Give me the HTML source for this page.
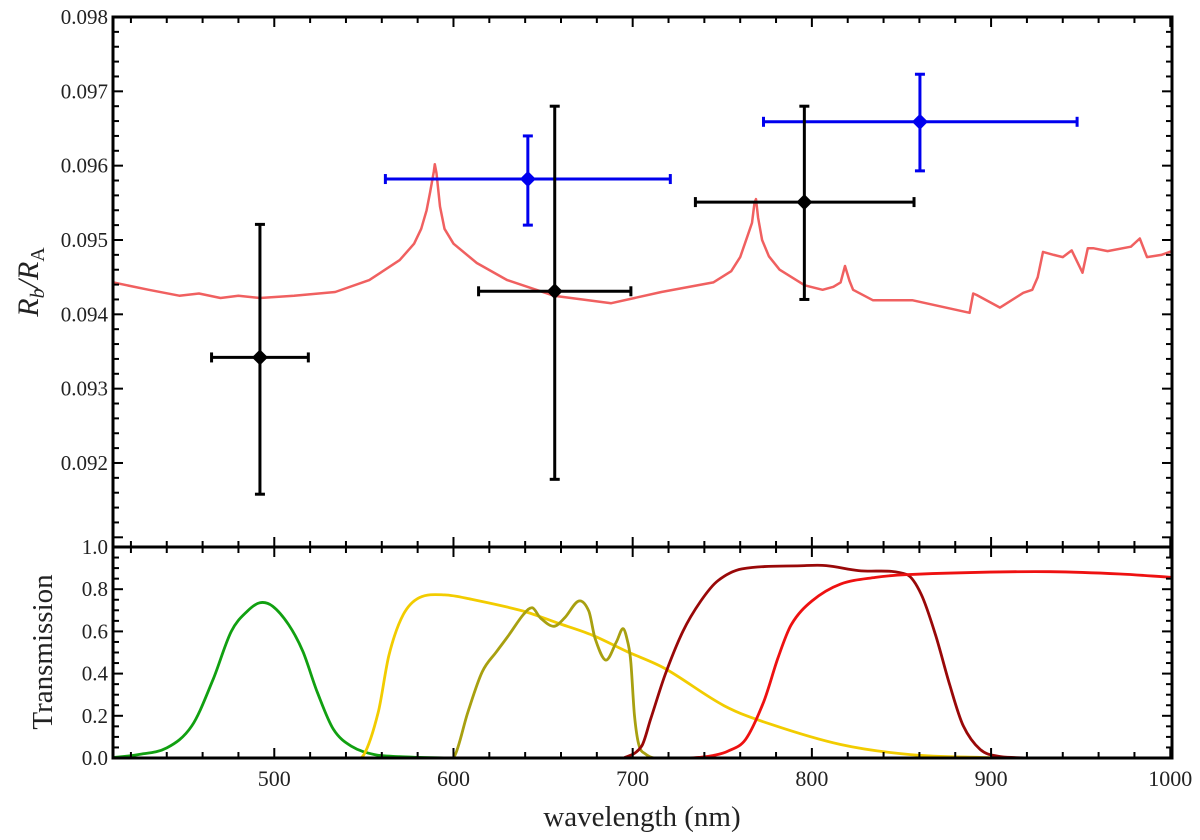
<!DOCTYPE html>
<html><head><meta charset="utf-8"><style>
html,body{margin:0;padding:0;background:#fff;}
svg{display:block;font-family:"Liberation Serif",serif;}
</style></head><body>
<svg id="chart" width="1200" height="840" viewBox="0 0 1200 840">
<g id="plot"></g>
</svg>
<script>
// ---- data ----
const modelWl = [410,430,447,458,470,480,492,511,534,553,570,578,582,585,587,589,589.6,590.5,592.5,595,600,613,630,656,688,716,745,755,760,764,766.6,768,768.8,770,772.2,776,782,796,806,812,816,818.5,821,823,834,856,888,890,892,905,918,923,926,929,935,940,945,951,954,957,965,978,983,987,995,1001];
const modelR = [0.09443,0.09433,0.09425,0.09428,0.09422,0.09425,0.09422,0.09425,0.0943,0.09446,0.09473,0.09495,0.09515,0.0954,0.09565,0.09592,0.09602,0.0959,0.09545,0.09515,0.09495,0.09469,0.09446,0.09425,0.09415,0.0943,0.09443,0.09458,0.09477,0.09505,0.09523,0.0955,0.09555,0.0953,0.095,0.09478,0.0946,0.09439,0.09433,0.09437,0.09443,0.09465,0.09445,0.09433,0.09419,0.09419,0.09402,0.09428,0.09426,0.09409,0.09429,0.09433,0.0945,0.09484,0.0948,0.09477,0.09486,0.09456,0.09489,0.09489,0.09485,0.09491,0.09502,0.09477,0.0948,0.09485];
const blackWl = [492,656.5,795.8];
const blackR = [0.09342,0.09431,0.09551];
const blackXlo = [465,614,735];
const blackXhi = [519,699,857];
const blackYlo = [0.09158,0.09178,0.09420];
const blackYhi = [0.09521,0.0968,0.0968];
const blueWl = [641.5,860.3];
const blueR = [0.09582,0.09659];
const blueXlo = [562,773];
const blueXhi = [721,948];
const blueYlo = [0.0952,0.09593];
const blueYhi = [0.0964,0.09723];
const greenWl = [408,424,440,454,466,476,485,492,499,508,516,524,533,543,556,570,581,600,700,800,900,1001];
const greenT = [0,0.016,0.048,0.152,0.376,0.6,0.696,0.736,0.72,0.632,0.504,0.312,0.136,0.056,0.016,0.006,0.003,0,0,0,0,0];
const yellowWl = [410,500,530,538,543,550,558,564,572,581,595,610,639,658,677,697,718,751,777,816,855,894,930,960,1001];
const yellowT = [0,0,0,0,0,0.016,0.216,0.488,0.68,0.76,0.773,0.752,0.696,0.64,0.584,0.504,0.424,0.248,0.16,0.064,0.016,0.003,0,0,0];
const oliveWl = [410,500,570,585,593,600.5,608,616,624,631,639,644,648.5,656,662,670,675.5,679,685,691,694.7,697.6,699,701,703.5,707,712,720,760,850,1001];
const oliveT = [0,0,0,0,0,0.008,0.216,0.408,0.504,0.584,0.68,0.712,0.664,0.624,0.664,0.744,0.696,0.568,0.464,0.552,0.613,0.536,0.45,0.2,0.06,0.02,0,0,0,0,0];
const darkWl = [410,550,650,680,690,695,705,710,718,728,738,747.5,761,796,808,826,853,861,869,877,884.5,894,904,914,924,950,1001];
const darkT = [0,0,0,0,0,0,0.056,0.184,0.392,0.6,0.744,0.84,0.896,0.912,0.912,0.888,0.869,0.776,0.584,0.344,0.152,0.04,0.008,0.002,0,0,0];
const redWl = [410,550,650,700,720,730,737,745,753,763,773,781,788.5,800,816,835.5,853,894,933,972,1001];
const redT = [0,0,0,0,0,0,0.003,0.012,0.032,0.088,0.264,0.472,0.632,0.744,0.824,0.856,0.869,0.88,0.883,0.872,0.856];
const xTicks = [500,600,700,800,900,1000];
const topTicks = [0.092,0.093,0.094,0.095,0.096,0.097,0.098];
const botTicks = [0,0.2,0.4,0.6,0.8,1.0];

// ---- axes ----
const L=113,R=1172,T0=17,M=547,B=758;
const X = nm => L + (nm-410)*1.792;
const YT = v => T0 + (0.098 - v)*74330;
const YB = t => B - t*211;
const NS='http://www.w3.org/2000/svg';
const plot=document.getElementById('plot');
function mk(tag,attrs,parent){const e=document.createElementNS(NS,tag);for(const k in attrs)e.setAttribute(k,attrs[k]);(parent||plot).appendChild(e);return e;}
function line(x1,y1,x2,y2,c,w,p){return mk('line',{x1,y1,x2,y2,stroke:c,'stroke-width':w},p);}
function smooth(pts){
  let d='M'+pts[0][0].toFixed(1)+','+pts[0][1].toFixed(1);
  for(let i=0;i<pts.length-1;i++){
    const p0=pts[Math.max(0,i-1)],p1=pts[i],p2=pts[i+1],p3=pts[Math.min(pts.length-1,i+2)];
    const seg=p2[0]-p1[0];
    // monotone-ish tangent scaled by segment length to avoid hooks
    const s1=(p2[1]-p0[1])/Math.max(1e-6,p2[0]-p0[0]);
    const s2=(p3[1]-p1[1])/Math.max(1e-6,p3[0]-p1[0]);
    const c1=[p1[0]+seg/3,p1[1]+s1*seg/3];
    const c2=[p2[0]-seg/3,p2[1]-s2*seg/3];
    d+=` C${c1[0].toFixed(1)},${c1[1].toFixed(1)} ${c2[0].toFixed(1)},${c2[1].toFixed(1)} ${p2[0].toFixed(1)},${p2[1].toFixed(1)}`;
  }
  return d;
}
const defs=mk('defs',{});
const cp1=mk('clipPath',{id:'ct'},defs);mk('rect',{x:L,y:T0,width:R-L,height:M-T0},cp1);
const cp2=mk('clipPath',{id:'cb'},defs);mk('rect',{x:L,y:M,width:R-L,height:B-M},cp2);

const gTop=mk('g',{'clip-path':'url(#ct)'});


const gBot=mk('g',{'clip-path':'url(#cb)'});



(function(){
  const d=modelWl.map((x,i)=>(i?'L':'M')+X(x).toFixed(1)+','+YT(modelR[i]).toFixed(1)).join(' ');
  const p=mk('path',{d,fill:'none',stroke:'#f06060','stroke-width':2.5,'stroke-linejoin':'round'},gTop);
  
  
})();

function errPts(wl,r,xlo,xhi,ylo,yhi,color,name){
  for(let i=0;i<wl.length;i++){
    const g=mk('g',{},gTop);
    
    
    const cx=X(wl[i]),cy=YT(r[i]);
    line(X(xlo[i]),cy,X(xhi[i]),cy,color,3,g);
    line(X(xlo[i]),cy-5,X(xlo[i]),cy+5,color,3,g);
    line(X(xhi[i]),cy-5,X(xhi[i]),cy+5,color,3,g);
    line(cx,YT(ylo[i]),cx,YT(yhi[i]),color,3,g);
    line(cx-5,YT(ylo[i]),cx+5,YT(ylo[i]),color,3,g);
    line(cx-5,YT(yhi[i]),cx+5,YT(yhi[i]),color,3,g);
    mk('polygon',{points:`${cx},${cy-8} ${cx+8},${cy} ${cx},${cy+8} ${cx-8},${cy}`,fill:color},g);
  }
}
errPts(blueWl,blueR,blueXlo,blueXhi,blueYlo,blueYhi,'#0000ee','blue-point');
errPts(blackWl,blackR,blackXlo,blackXhi,blackYlo,blackYhi,'#000000','black-point');

function bcurve(wl,t,color,name){
  const pts=wl.map((x,i)=>[X(x),YB(t[i])]);
  const p=mk('path',{d:smooth(pts),fill:'none',stroke:color,'stroke-width':2.8,'stroke-linejoin':'round'},gBot);
  
  
}
bcurve(greenWl,greenT,'#11a011','filter-green');
bcurve(yellowWl,yellowT,'#f2cc00','filter-yellow');
bcurve(oliveWl,oliveT,'#a8a010','filter-olive');
bcurve(darkWl,darkT,'#990808','filter-darkred');
bcurve(redWl,redT,'#ee1111','filter-red');

const tg=mk('g',{});


for(let nm=420;nm<=1000;nm+=20){
  const x=X(nm), maj=nm%100===0, l=maj?10:6;
  [T0,M].forEach(y=>line(x,y,x,y+l,'#000',2,tg));
  [M,B].forEach(y=>line(x,y,x,y-l,'#000',2,tg));
}
for(let k=0;k<=35;k++){
  const v=0.091+k*0.0002; if(v>0.09801)break; const y=YT(v); if(y>M-2)continue;
  const maj=k%5===0,l=maj?10:6;
  line(L,y,L+l,y,'#000',2,tg); line(R,y,R-l,y,'#000',2,tg);
}
for(let k=0;k<=20;k++){
  const t=k*0.05,y=YB(t),maj=k%4===0,l=maj?10:6;
  line(L,y,L+l,y,'#000',2,tg); line(R,y,R-l,y,'#000',2,tg);
}
const f1=mk('rect',{x:L,y:T0,width:R-L,height:M-T0,fill:'none',stroke:'#000','stroke-width':3});


const f2=mk('rect',{x:L,y:M,width:R-L,height:B-M,fill:'none',stroke:'#000','stroke-width':3});



function txt(s,x,y,attrs,name){
  const e=mk('text',Object.assign({x,y,fill:'#222'},attrs));
  e.textContent=s;
  
  
  return e;
}
topTicks.forEach(v=>txt(v.toFixed(3),108,YT(v)+7,{'font-size':21,'text-anchor':'end'},'y-tick-label-top'));
botTicks.forEach(v=>txt(v.toFixed(1),108,YB(v)+7,{'font-size':21,'text-anchor':'end'},'y-tick-label-bottom'));
xTicks.forEach(v=>txt(String(v),X(v),786,{'font-size':22,'text-anchor':'middle'},'x-tick-label'));
txt('wavelength (nm)',642,826,{'font-size':29,'text-anchor':'middle'},'x-axis-title');
txt('Transmission',0,0,{'font-size':29,'text-anchor':'middle',transform:'translate(52,652) rotate(-90)'},'y-axis-title-bottom');
const yt=mk('text',{transform:'translate(38,282) rotate(-90)','text-anchor':'middle','font-size':30,fill:'#222','font-style':'italic'});


yt.innerHTML='R<tspan font-size="20" dy="6">b</tspan><tspan dy="-6">/R</tspan><tspan font-size="20" dy="6" font-style="normal">A</tspan>';
</script>
</body></html>
